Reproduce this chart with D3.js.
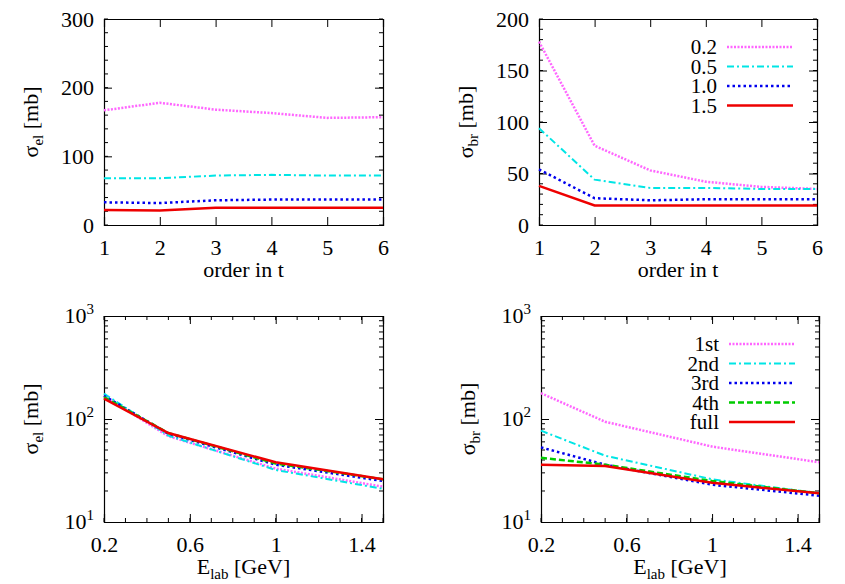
<!DOCTYPE html>
<html><head><meta charset="utf-8">
<script src="https://cdn.jsdelivr.net/npm/d3@7"></script>
<style>body{margin:0;background:#fff}text{font-family:"Liberation Serif",serif;fill:#000}</style>
</head><body>
<script>
// orders and energies
let orders = [1, 2, 3, 4, 5, 6];
let energies = [0.2, 0.5, 1.0, 1.5];
let energyLabels = ["0.2", "0.5", "1.0", "1.5"];
let orderLabels = ["1st", "2nd", "3rd", "4th", "full"];

// elastic cross section vs order, one row per energy
let elByOrder = [
    [167, 178, 168, 163, 156, 157],
    [68, 68, 72, 73, 72, 72],
    [33, 32, 36, 37, 37, 37],
    [22, 21, 25, 25, 25, 25]
];
// breakup cross section vs order
let brByOrder = [
    [178, 77, 53, 42, 37, 35],
    [94, 44, 36, 36, 35, 35],
    [54, 26, 24, 25, 25, 25],
    [38, 19, 19, 19, 19, 19]
];
// vs energy, one row per order
let elByEnergy = [
    [167, 68, 33, 22],
    [176, 69, 32, 21],
    [168, 72, 36, 25],
    [163, 73, 37, 26],
    [158, 73, 38, 26]
];
let brByEnergy = [
    [178, 94, 54, 38],
    [77, 44, 26, 19],
    [53, 36, 23, 18],
    [42, 36, 25, 19],
    [36, 35, 24, 19]
];

let styles = [
    {color: "#ff66ff", dash: "2,1.5", w: 2.5},
    {color: "#00e5e5", dash: "7,3,2,3", w: 2},
    {color: "#0000ee", dash: "2.5,3", w: 2.5},
    {color: "#00cc00", dash: "6,3", w: 2.5},
    {color: "#ee0000", dash: null, w: 2.5}
];
let topStyles = [styles[0], styles[1], styles[2], styles[4]];

let svg = d3.select("body").append("svg").attr("width", 845).attr("height", 584);

function panel(o) {
    let g = svg.append("g");
    let x = d3.scaleLinear().domain(o.xdom).range([o.left, o.right]);
    let y = (o.log ? d3.scaleLog() : d3.scaleLinear()).domain(o.ydom).range([o.bottom, o.top]);

    // minor ticks
    let minorY = o.log ? [20,30,40,50,60,70,80,90,200,300,400,500,600,700,800,900]
        : d3.range(o.ydom[0], o.ydom[1] + 0.01, o.yminor);
    let minorX = o.xminor ? d3.range(o.xdom[0], o.xdom[1] + 1e-9, o.xminor) : [];
    minorY.forEach(v => {
        g.append("line").attr("x1", o.left).attr("x2", o.left + 4).attr("y1", y(v)).attr("y2", y(v)).attr("stroke", "#000");
        g.append("line").attr("x1", o.right).attr("x2", o.right - 4).attr("y1", y(v)).attr("y2", y(v)).attr("stroke", "#000");
    });
    minorX.forEach(v => {
        g.append("line").attr("y1", o.bottom).attr("y2", o.bottom - 4).attr("x1", x(v)).attr("x2", x(v)).attr("stroke", "#000");
        g.append("line").attr("y1", o.top).attr("y2", o.top + 4).attr("x1", x(v)).attr("x2", x(v)).attr("stroke", "#000");
    });

    let axes = [
        [d3.axisBottom(x).tickValues(o.xticks).tickSize(-8).tickFormat(o.xfmt || d3.format("d")), `translate(0,${o.bottom})`, "b"],
        [d3.axisTop(x).tickValues(o.xticks).tickSize(-8).tickFormat(""), `translate(0,${o.top})`, "t"],
        [d3.axisLeft(y).tickValues(o.yticks).tickSize(-8).tickFormat(o.log ? "" : d3.format("d")), `translate(${o.left},0)`, "l"],
        [d3.axisRight(y).tickValues(o.yticks).tickSize(-8).tickFormat(""), `translate(${o.right},0)`, "r"]
    ];
    axes.forEach(([ax, tr, side]) => {
        let a = g.append("g").attr("transform", tr).call(ax);
        a.select(".domain").attr("stroke-width", 1.2);
        a.selectAll("text").style("font-size", "22px").style("font-family", "Liberation Serif");
        if (side === "b") a.selectAll("text").attr("y", 10).attr("dy", "0.9em");
        if (side === "l") a.selectAll("text").attr("x", -10);
    });

    if (o.log) {
        o.yticks.forEach(v => {
            let t = g.append("text").attr("x", o.left - 10).attr("y", y(v) + 7).attr("text-anchor", "end").style("font-size", "22px");
            t.append("tspan").text("10");
            t.append("tspan").attr("dy", -9).style("font-size", "15px").text(Math.round(Math.log10(v)));
        });
    }

    let line = d3.line().x((d, i) => x(o.xs[i])).y(d => y(d));
    o.series.forEach((s, i) => {
        let st = o.styles[i];
        g.append("path").attr("d", line(s)).attr("fill", "none").attr("stroke", st.color)
            .attr("stroke-width", st.w).attr("stroke-dasharray", st.dash);
    });

    // x label
    let xl = g.append("text").attr("x", (o.left + o.right) / 2).attr("y", o.bottom + 52).attr("text-anchor", "middle").style("font-size", "22px");
    if (o.xlab === "E") {
        xl.append("tspan").text("E");
        xl.append("tspan").attr("dy", 5).style("font-size", "15px").text("lab");
        xl.append("tspan").attr("dy", -5).text(" [GeV]");
    } else xl.text(o.xlab);
    // y label
    let yl = g.append("text").attr("transform", `translate(${o.left - 66},${(o.top + o.bottom) / 2}) rotate(-90)`)
        .attr("text-anchor", "middle").style("font-size", "22px");
    yl.append("tspan").text("σ");
    yl.append("tspan").attr("dy", 5).style("font-size", "15px").text(o.ysub);
    yl.append("tspan").attr("dy", -5).text(" [mb]");

    if (o.legend) {
        o.legend.forEach((lab, i) => {
            let ly = o.top + 28 + i * 19.5;
            g.append("text").attr("x", o.right - 100).attr("y", ly + 7).attr("text-anchor", "end").style("font-size", "21px").text(lab);
            let st = o.styles[i];
            g.append("line").attr("x1", o.right - 90).attr("x2", o.right - 24).attr("y1", ly).attr("y2", ly)
                .attr("stroke", st.color).attr("stroke-width", st.w).attr("stroke-dasharray", st.dash);
        });
    }
}

let common = {xdom: [1, 6], xticks: orders, xs: orders, xlab: "order in t", styles: topStyles};
panel({...common, left: 104, right: 383, top: 19, bottom: 225, ydom: [0, 300], yticks: [0, 100, 200, 300], yminor: 20, ysub: "el", series: elByOrder});
panel({...common, left: 539, right: 817, top: 19, bottom: 225, ydom: [0, 200], yticks: [0, 50, 100, 150, 200], yminor: 10, ysub: "br", series: brByOrder, legend: energyLabels});

let bot = {xdom: [0.2, 1.5], xticks: [0.2, 0.6, 1, 1.4], xminor: 0.1, xfmt: d => String(+d.toFixed(1)), xs: energies, xlab: "E", log: true,
    ydom: [10, 1000], yticks: [10, 100, 1000], styles: styles};
panel({...bot, left: 104, right: 383, top: 316, bottom: 522, ysub: "el", series: elByEnergy});
panel({...bot, left: 541, right: 819, top: 316, bottom: 522, ysub: "br", series: brByEnergy, legend: orderLabels});
</script>
</body></html>
